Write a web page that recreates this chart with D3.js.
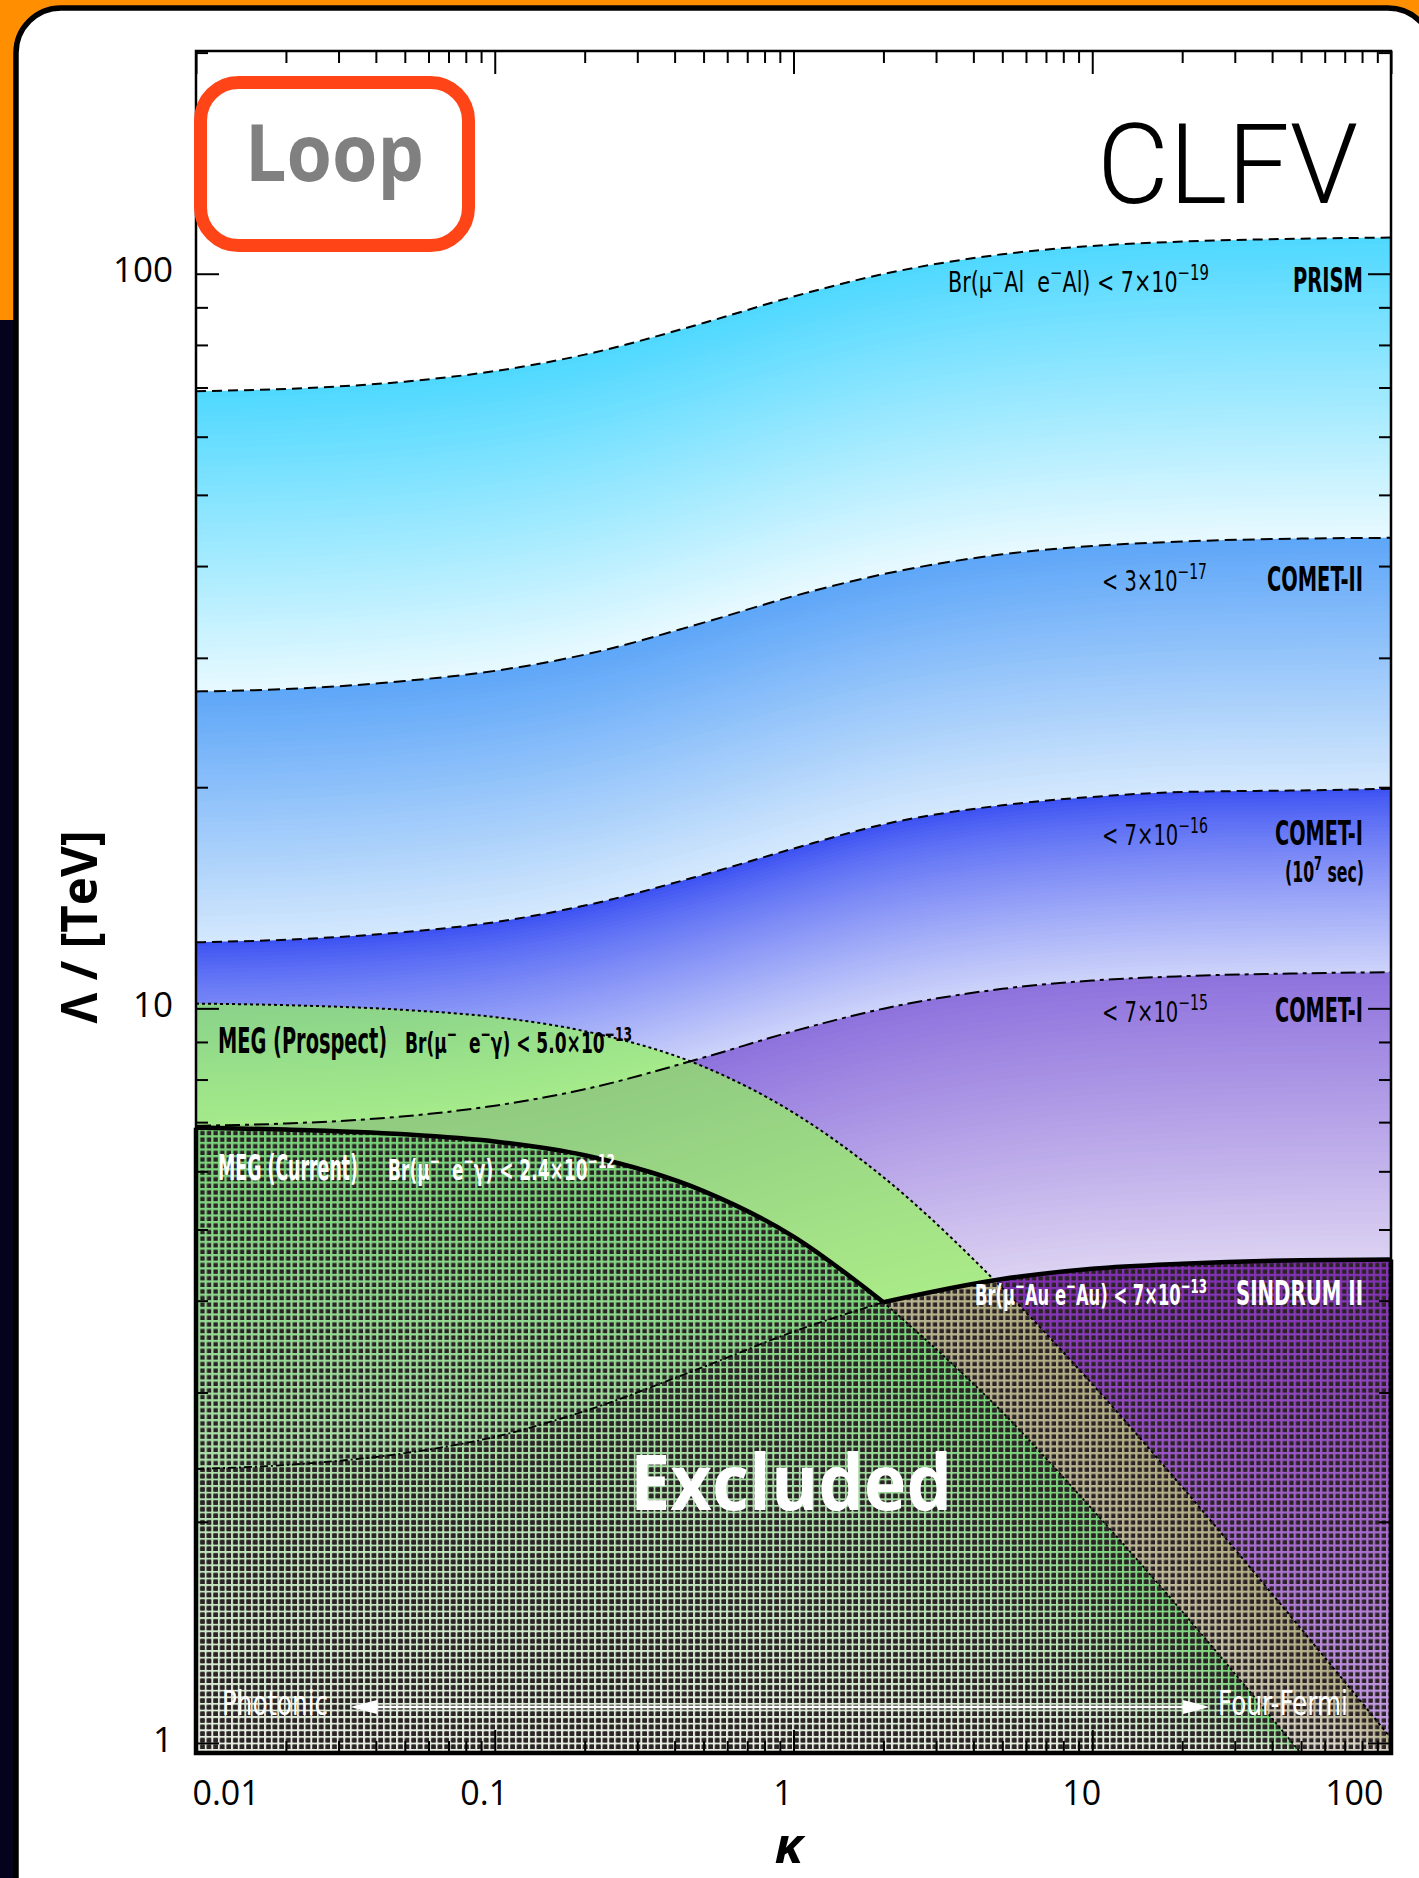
<!DOCTYPE html>
<html>
<head>
<meta charset="utf-8">
<script src="https://cdn.jsdelivr.net/npm/d3@7"></script>
<style>
html, body { margin: 0; padding: 0; background: #fff; }
svg { display: block; }
text { white-space: pre; }
</style>
</head>
<body>
<svg id="chart" width="1419" height="1878"></svg>
<script>
// kappa grid shared by every bound
const kappa = [0.01, 0.02, 0.05, 0.1, 0.2, 0.5, 1, 2, 5, 10, 20, 50, 100];

const prism       = [69.2, 69.7, 71.3, 73.7, 77.6, 85.7, 93.1, 99.9, 106.3, 109.1, 110.6, 111.6, 112.0];
const cometII     = [27.0, 27.2, 27.9, 28.8, 30.3, 33.5, 36.4, 39.0, 41.5, 42.6, 43.2, 43.6, 43.7];
const cometI7     = [12.3, 12.4, 12.7, 13.1, 13.8, 15.2, 16.5, 17.8, 18.9, 19.4, 19.7, 19.8, 19.9];
const cometI      = [6.92, 6.97, 7.13, 7.37, 7.76, 8.57, 9.31, 9.99, 10.63, 10.91, 11.06, 11.16, 11.20];
const sindrum     = [2.36, 2.39, 2.48, 2.61, 2.83, 3.25, 3.63, 3.98, 4.28, 4.42, 4.49, 4.54, 4.55];
const megNow      = [6.88, 6.84, 6.74, 6.59, 6.31, 5.64, 4.89, 3.98, 2.82, 2.08, 1.51, 0.968, 0.688];
const megProspect = [10.15, 10.10, 9.95, 9.73, 9.31, 8.33, 7.21, 5.89, 4.16, 3.08, 2.23, 1.43, 1.015];

const KAPPA_CROSS = 2;            // where MEG (current) meets SINDRUM II
const LAMBDA_MIN = 0.969, LAMBDA_MAX = 201;

const xTickLabels = ["0.01", "0.1", "1", "10", "100"];
const yTickLabels = ["1", "10", "100"];

// label texts, "^" marks a superscript piece
const prismText   = ["Br(μ", "^−", "Al  e", "^−", "Al) < 7×10", "^−19"];
const cometIIText = ["< 3×10", "^−17"];
const cometI7Text = ["< 7×10", "^−16"];
const cometIText  = ["< 7×10", "^−15"];
const sindrumText = ["Br(μ", "^−", "Au e", "^−", "Au) < 7×10", "^−13"];
const megProText  = ["Br(μ", "^−", "  e", "^−", "γ) < 5.0×10", "^−13"];
const megNowText  = ["Br(μ", "^−", "  e", "^−", "γ) < 2.4×10", "^−12"];

const W = 1419, H = 1878;
const M = { left: 196, right: 1391, top: 51, bottom: 1753 };
const NARROW = "'Liberation Sans Narrow', 'DejaVu Sans Condensed', 'Arial Narrow', sans-serif";
const SANS = "'Open Sans', 'Noto Sans', sans-serif";

const svg = d3.select("#chart");

// slide backdrop
svg.append("rect").attr("width", W).attr("height", H).attr("fill", "#03031d");
svg.append("rect").attr("width", W).attr("height", 320).attr("fill", "#ff8f00");
svg.append("rect").attr("x", 16).attr("y", 8).attr("width", 1417).attr("height", 1920).attr("rx", 45)
	.attr("fill", "#fff").attr("stroke", "#000").attr("stroke-width", 5.5);

const x = d3.scaleLog().domain([0.01, 100]).range([M.left, M.right]);
const y = d3.scaleLog().domain([LAMBDA_MIN, LAMBDA_MAX]).range([M.bottom, M.top]);

const floor = kappa.map(() => LAMBDA_MIN);
const pts = arr => kappa.map((k, j) => ({ k: k, v: arr[j] }));
const line = d3.line().x(d => x(d.k)).y(d => y(d.v)).curve(d3.curveMonotoneX);
const area = d3.area().x(d => x(d.k)).y0(d => y(d.lo)).y1(d => y(d.hi)).curve(d3.curveMonotoneX);
const fillUnder = arr => area(kappa.map((k, j) => ({ k: k, hi: arr[j], lo: LAMBDA_MIN })));

const defs = svg.append("defs");
defs.append("clipPath").attr("id", "plotClip").append("rect")
	.attr("x", M.left).attr("y", M.top).attr("width", M.right - M.left).attr("height", M.bottom - M.top);
defs.append("clipPath").attr("id", "sindrumClip").append("path").attr("d", fillUnder(sindrum));
const mesh = defs.append("pattern").attr("id", "mesh").attr("patternUnits", "userSpaceOnUse")
	.attr("width", 6.6).attr("height", 6.6);
mesh.append("rect").attr("x", 2.3).attr("y", 2.3).attr("width", 4.3).attr("height", 4.3).attr("fill", "#2a2225");

const plot = svg.append("g").attr("clip-path", "url(#plotClip)");

// a region whose colour fades from its upper bound towards its lower bound
function band(parent, hiArr, loArr, c0, c1, gamma) {
	const n = 48, col = d3.interpolateRgb(c0, c1);
	for (let i = 0; i < n; i++) {
		const t = i / n;
		const rows = kappa.map((k, j) => ({
			k: k,
			hi: Math.exp((1 - t) * Math.log(hiArr[j]) + t * Math.log(loArr[j])),
			lo: loArr[j]
		}));
		parent.append("path").attr("d", area(rows)).attr("fill", col(Math.pow((i + 0.5) / n, gamma)));
	}
}

band(plot, prism, cometII, "#4fd8ff", "#e8f9ff", 1);
band(plot, cometII, cometI7, "#5ea6f8", "#d4e8fd", 1);
band(plot, cometI7, cometI, "#3a50f3", "#cdd3fa", 0.8);
band(plot, cometI, sindrum, "#8e72dd", "#dcd2f2", 1);
band(plot, sindrum, floor, "#8230b4", "#c9a6e6", 1.2);

plot.append("path").attr("d", fillUnder(megProspect)).attr("fill", "#92f655").attr("fill-opacity", 0.68);

// MEG prospect reach inside the SINDRUM II exclusion
band(plot.append("g").attr("clip-path", "url(#sindrumClip)"), megProspect, floor, "#b0ac82", "#dcd8ce", 1.2);

band(plot, megNow, floor, "#78d278", "#e8eee2", 1.2);

plot.append("path").attr("d", fillUnder(megNow)).attr("fill", "url(#mesh)");
plot.append("path").attr("d", fillUnder(sindrum)).attr("fill", "url(#mesh)");

// boundaries
const iCross = kappa.indexOf(KAPPA_CROSS);
const curves = [
	{ d: pts(prism), dash: "10,6", w: 2 },
	{ d: pts(cometII), dash: "12,6", w: 2 },
	{ d: pts(cometI7), dash: "10,6", w: 2 },
	{ d: pts(cometI), dash: "15,5,4,5", w: 2 },
	{ d: pts(megProspect), dash: "3,3", w: 2 },
	{ d: pts(megNow).slice(iCross), dash: "2.5,2.5", w: 1.8 },
	{ d: pts(sindrum).slice(0, iCross + 1), dash: "8,3,2,3", w: 1.8 },
	{ d: pts(megNow).slice(0, iCross + 1), dash: null, w: 4.5 },
	{ d: pts(sindrum).slice(iCross), dash: null, w: 4.5 }
];
plot.selectAll("path.bound").data(curves).enter().append("path")
	.attr("class", "bound")
	.attr("d", c => line(c.d))
	.attr("fill", "none")
	.attr("stroke", "#000")
	.attr("stroke-width", c => c.w)
	.attr("stroke-dasharray", c => c.dash);

// thick edge of the excluded region along the frame
svg.append("path")
	.attr("d", d3.line().x(d => x(d.k)).y(d => y(d.v))([
		{ k: 0.01, v: megNow[0] }, { k: 0.01, v: LAMBDA_MIN },
		{ k: 100, v: LAMBDA_MIN }, { k: 100, v: sindrum[sindrum.length - 1] }]))
	.attr("fill", "none").attr("stroke", "#000").attr("stroke-width", 4.5);

// frame and ticks
svg.append("rect").attr("x", M.left).attr("y", M.top)
	.attr("width", M.right - M.left).attr("height", M.bottom - M.top)
	.attr("fill", "none").attr("stroke", "#000").attr("stroke-width", 2.5);

const isMajor = v => Math.abs(Math.log10(v) - Math.round(Math.log10(v))) < 1e-6;
const xt = x.ticks(), yt = y.ticks();

function ticks(axis, tr, attr, sign) {
	const g = svg.append("g").attr("transform", tr).call(axis);
	g.select(".domain").remove();
	g.selectAll(".tick line").attr(attr, v => sign * (isMajor(v) ? 23 : 12))
		.attr("stroke", "#000").attr("stroke-width", 2);
	return g;
}
const gB = ticks(d3.axisBottom(x).tickValues(xt).tickSize(0)
	.tickFormat(v => isMajor(v) ? xTickLabels[Math.round(Math.log10(v)) + 2] : ""),
	`translate(0,${M.bottom})`, "y2", -1);
ticks(d3.axisTop(x).tickValues(xt).tickSize(0).tickFormat(""), `translate(0,${M.top})`, "y2", 1);
const gL = ticks(d3.axisLeft(y).tickValues(yt).tickSize(0)
	.tickFormat(v => isMajor(v) ? yTickLabels[Math.round(Math.log10(v))] : ""),
	`translate(${M.left},0)`, "x2", 1);
ticks(d3.axisRight(y).tickValues(yt).tickSize(0).tickFormat(""), `translate(${M.right},0)`, "x2", -1);

gB.selectAll(".tick text")
	.attr("y", 52).attr("dy", null)
	.attr("x", v => v === 0.01 ? -4 : v === 100 ? -8 : -11)
	.attr("text-anchor", v => v === 0.01 ? "start" : v === 100 ? "end" : "middle")
	.attr("font-family", SANS).attr("font-size", 34).attr("fill", "#000");
gL.selectAll(".tick text")
	.attr("x", -23).attr("dy", "0.32em").attr("y", -3)
	.attr("font-family", SANS).attr("font-size", 35).attr("fill", "#000");

// text helpers
function rich(parts, o) {
	const t = svg.append("text").attr("x", o.x).attr("y", o.y)
		.attr("text-anchor", o.anchor || "start")
		.attr("font-family", o.family || NARROW).attr("font-size", o.size)
		.attr("font-weight", o.weight || "normal").attr("font-style", o.style || "normal")
		.attr("fill", o.fill || "#000");
	if (o.len) t.attr("textLength", o.len).attr("lengthAdjust", "spacingAndGlyphs");
	if (o.transform) t.attr("transform", o.transform);
	let up = false;
	parts.forEach(p => {
		const sup = p.startsWith("^");
		const s = t.append("tspan").text(sup ? p.slice(1) : p);
		if (sup) {
			s.attr("font-size", o.size * 0.72);
			if (!up) { s.attr("dy", -0.42 * o.size); up = true; }
		} else if (up) { s.attr("dy", 0.42 * o.size); up = false; }
	});
	return t;
}

rich(prismText, { x: 948, y: 292, size: 29, len: 261 });
rich(["PRISM"], { x: 1363, y: 292, size: 34, weight: "bold", anchor: "end", len: 70 });
rich(cometIIText, { x: 1102, y: 591, size: 29, len: 105 });
rich(["COMET-II"], { x: 1363, y: 591, size: 34, weight: "bold", anchor: "end", len: 96 });
rich(cometI7Text, { x: 1102, y: 845, size: 29, len: 106 });
rich(["COMET-I"], { x: 1363, y: 845, size: 34, weight: "bold", anchor: "end", len: 88 });
rich(["(10", "^7", " sec)"], { x: 1364, y: 882, size: 28, weight: "bold", anchor: "end", len: 79 });
rich(cometIText, { x: 1102, y: 1022, size: 29, len: 106 });
rich(["COMET-I"], { x: 1363, y: 1022, size: 34, weight: "bold", anchor: "end", len: 88 });
rich(sindrumText, { x: 975, y: 1305, size: 28, weight: "bold", fill: "#fff", len: 232 });
rich(["SINDRUM II"], { x: 1363, y: 1305, size: 34, weight: "bold", anchor: "end", fill: "#fff", len: 127 });
rich(["MEG (Prospect)"], { x: 218, y: 1053, size: 36, weight: "bold", len: 169 });
rich(megProText, { x: 405, y: 1053, size: 28, weight: "bold", len: 227 });
rich(["MEG (Current)"], { x: 218, y: 1180, size: 36, weight: "bold", fill: "#fff", len: 140 });
rich(megNowText, { x: 388, y: 1180, size: 28, weight: "bold", fill: "#fff", len: 227 });
rich(["Excluded"], { x: 630, y: 1510, size: 77, weight: "bold", family: SANS, fill: "#fff", len: 322 });
rich(["Photonic"], { x: 222, y: 1715, size: 33, fill: "#fff", len: 106 });
rich(["Four-Fermi"], { x: 1218, y: 1715, size: 33, fill: "#fff", len: 130 });

// Photonic <-> Four-Fermi arrow
svg.append("line").attr("x1", 372).attr("x2", 1190).attr("y1", 1707).attr("y2", 1707)
	.attr("stroke", "#fff").attr("stroke-width", 2.5);
svg.append("path").attr("d", "M350,1707L377,1700L377,1714Z").attr("fill", "#fff");
svg.append("path").attr("d", "M1210,1707L1183,1700L1183,1714Z").attr("fill", "#fff");

// axis titles
rich(["Λ / [TeV]"], { x: 0, y: 0, size: 50, weight: "bold", family: SANS, anchor: "middle",
	len: 193, transform: "translate(97,927) rotate(-90)" });
rich(["κ"], { x: 789, y: 1863, size: 50, weight: "bold", style: "italic", family: SANS, anchor: "middle" });

// corner badges
svg.append("rect").attr("x", 200.5).attr("y", 82.5).attr("width", 268).attr("height", 163).attr("rx", 38)
	.attr("fill", "#fff").attr("stroke", "#ff4517").attr("stroke-width", 13);
rich(["Loop"], { x: 245, y: 181, size: 78, weight: "bold", family: SANS, fill: "#808080", len: 179 });
rich(["CLFV"], { x: 1097, y: 203, size: 112, weight: 300, family: "Roboto, 'Liberation Sans', sans-serif", len: 261 });
</script>
</body>
</html>
